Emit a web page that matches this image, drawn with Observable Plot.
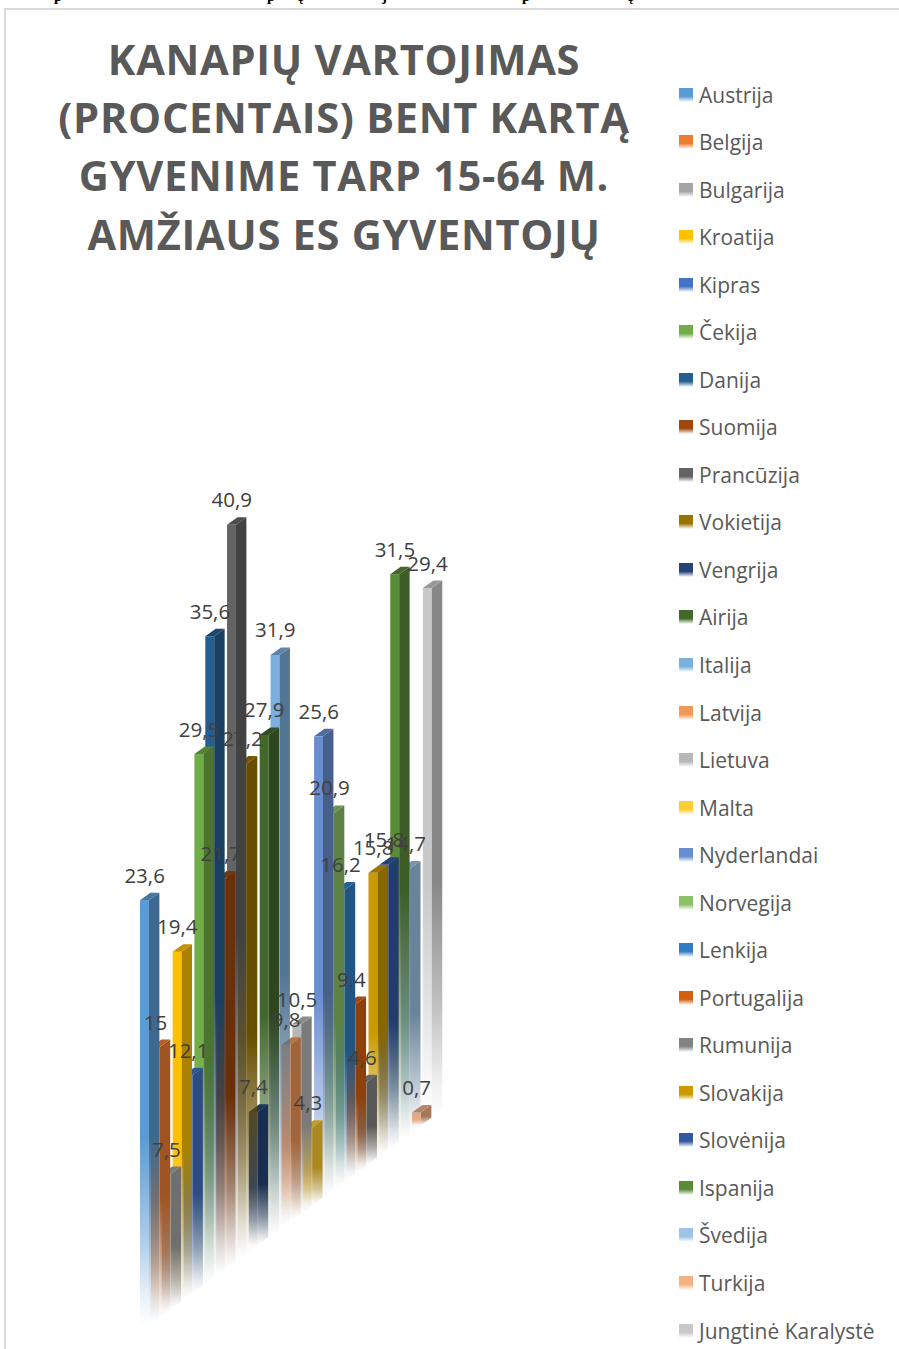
<!DOCTYPE html>
<html lang="lt">
<head>
<meta charset="utf-8">
<script src="https://cdn.jsdelivr.net/npm/d3@7"></script>
<script src="https://cdn.jsdelivr.net/npm/@observablehq/plot@0.6"></script>
<style>
  html, body { margin: 0; padding: 0; background: #fff; }
  #page { position: relative; width: 899px; height: 1349px; overflow: hidden; background: #fff; }
  #frame { position: absolute; left: 4px; top: 8px; width: 1000px; height: 1500px; border: 2px solid #d9d9d9; box-sizing: border-box; }
  #clip span { position: absolute; top: -12px; font: bold 15px "Liberation Serif", serif; color: #000; line-height: 17px; }
  #title { position: absolute; left: 4px; top: 29.5px; width: 680px; text-align: center; font: 700 41.6px/58.4px "Open Sans", sans-serif; color: #595959; letter-spacing: 0.7px; white-space: nowrap; }
  #chart { position: absolute; left: 120px; top: 480px; }
  #legend { position: absolute; left: 679px; top: 0; }
  .row { position: absolute; left: 0; white-space: nowrap; font: 21px/24px "Open Sans", sans-serif; color: #595959; }
  .sw { position: absolute; left: 0; top: 5px; width: 14px; height: 14px; }
  .lb { position: absolute; left: 20px; top: 0; }
</style>
</head>
<body>
<div id="page">
  <div id="clip"></div>
  <div id="frame"></div>
  <div id="title">KANAPIŲ VARTOJIMAS<br>(PROCENTAIS) BENT KARTĄ<br>GYVENIME TARP 15-64 M.<br>AMŽIAUS ES GYVENTOJŲ</div>
  <div id="chart"></div>
  <div id="legend"></div>
</div>
<script>
const countries = ["Austrija","Belgija","Bulgarija","Kroatija","Kipras","Čekija","Danija","Suomija","Prancūzija","Vokietija","Vengrija","Airija","Italija","Latvija","Lietuva","Malta","Nyderlandai","Norvegija","Lenkija","Portugalija","Rumunija","Slovakija","Slovėnija","Ispanija","Švedija","Turkija","Jungtinė Karalystė"];
const values = [23.6,15,7.5,19.4,12.1,29.5,35.6,21.7,40.9,27.2,7.4,27.9,31.9,9.8,10.5,4.3,25.6,20.9,16.2,9.4,4.6,15.8,15.8,31.5,14.7,0.7,29.4];
const colors = ["#5B9BD5","#ED7D31","#A5A5A5","#FFC000","#4472C4","#70AD47","#255E91","#9E480E","#636363","#997300","#264478","#43682B","#7CAFDD","#F1975A","#B7B7B7","#FFCD33","#698ED0","#8CC168","#327DC2","#D26012","#848484","#CC9A00","#335AA1","#5A8B39","#9DC3E6","#F4B183","#C9C9C9"];
const fragments = [["p",54],["p",267],["ę",297],["j",382],["p",522],["ę",627]];

// oblique projection of the 3-D columns, in data units
const rise = 0.444;      // each category's floor rises by this many percent points
const frontW = 0.82;     // front face width, in category slots
const sideW = 0.96;      // side face width, in category slots
const sideRise = 0.417;  // side face slope over its width

const fades = [[0, 1], [0.56, 1], [0.8, 0.5], [0.94, 0.12], [1, 0]];
const defsSvg = d3.select("#page").append("svg").attr("width", 0).attr("height", 0).style("position", "absolute");
const defs = defsSvg.append("defs");
function gradient(id, color) {
  const g = defs.append("linearGradient").attr("id", id).attr("x1", 0).attr("y1", 0).attr("x2", 0).attr("y2", 1);
  for (const [o, a] of fades) g.append("stop").attr("offset", o).attr("stop-color", color).attr("stop-opacity", a);
}
const shade = (c, f) => { const r = d3.rgb(c); return d3.rgb(r.r * f, r.g * f, r.b * f).formatHex(); };
colors.forEach((c, k) => { gradient(`front${k}`, c); gradient(`side${k}`, shade(c, 0.67)); });

const floor = k => rise * k;
const marks = [];
for (let k = countries.length - 1; k >= 0; k--) {
  const b = floor(k), t = b + values[k];
  marks.push(Plot.rect([k], { x1: () => k, x2: () => k + frontW, y1: () => b, y2: () => t, fill: `url(#front${k})` }));
  marks.push(Plot.area([{x: k + frontW, y1: b, y2: t}, {x: k + frontW + sideW, y1: b + sideRise, y2: t + sideRise}],
    { x1: "x", y1: "y1", y2: "y2", fill: `url(#side${k})` }));
  marks.push(Plot.area([{y: t, x1: k, x2: k + frontW}, {y: t + sideRise, x1: k + sideW, x2: k + frontW + sideW}],
    { x1: "x1", x2: "x2", y1: "y", fill: shade(colors[k], 0.76) }));
}
marks.push(Plot.text(values, {
  x: (d, i) => i + 0.38,
  y: (d, i) => floor(i) + d,
  text: d => String(d).replace(".", ","),
  dy: -24.5,
  fontSize: 20.5,
  fontFamily: "Open Sans, sans-serif",
  fill: "#404040"
}));

const chart = Plot.plot({
  width: 340, height: 860,
  marginTop: 0, marginRight: 0, marginBottom: 0, marginLeft: 0,
  x: { domain: [-20 / 10.88, 320 / 10.88], axis: null },
  y: { domain: [-15 / 18, 845 / 18], axis: null },
  marks
});
chart.style.background = "transparent";
chart.style.overflow = "visible";
document.getElementById("chart").append(chart);

const legend = d3.select("#legend");
countries.forEach((name, k) => {
  const row = legend.append("div").attr("class", "row").style("top", `${82.5 + k * 47.54}px`);
  row.append("div").attr("class", "sw")
    .style("background", `linear-gradient(to bottom, ${colors[k]} 0%, ${colors[k]} 60%, #ffffff 100%)`);
  row.append("div").attr("class", "lb").text(name);
});
const clip = d3.select("#clip");
fragments.forEach(([s, x]) => clip.append("span").style("left", `${x}px`).text(s));
</script>
</body>
</html>
